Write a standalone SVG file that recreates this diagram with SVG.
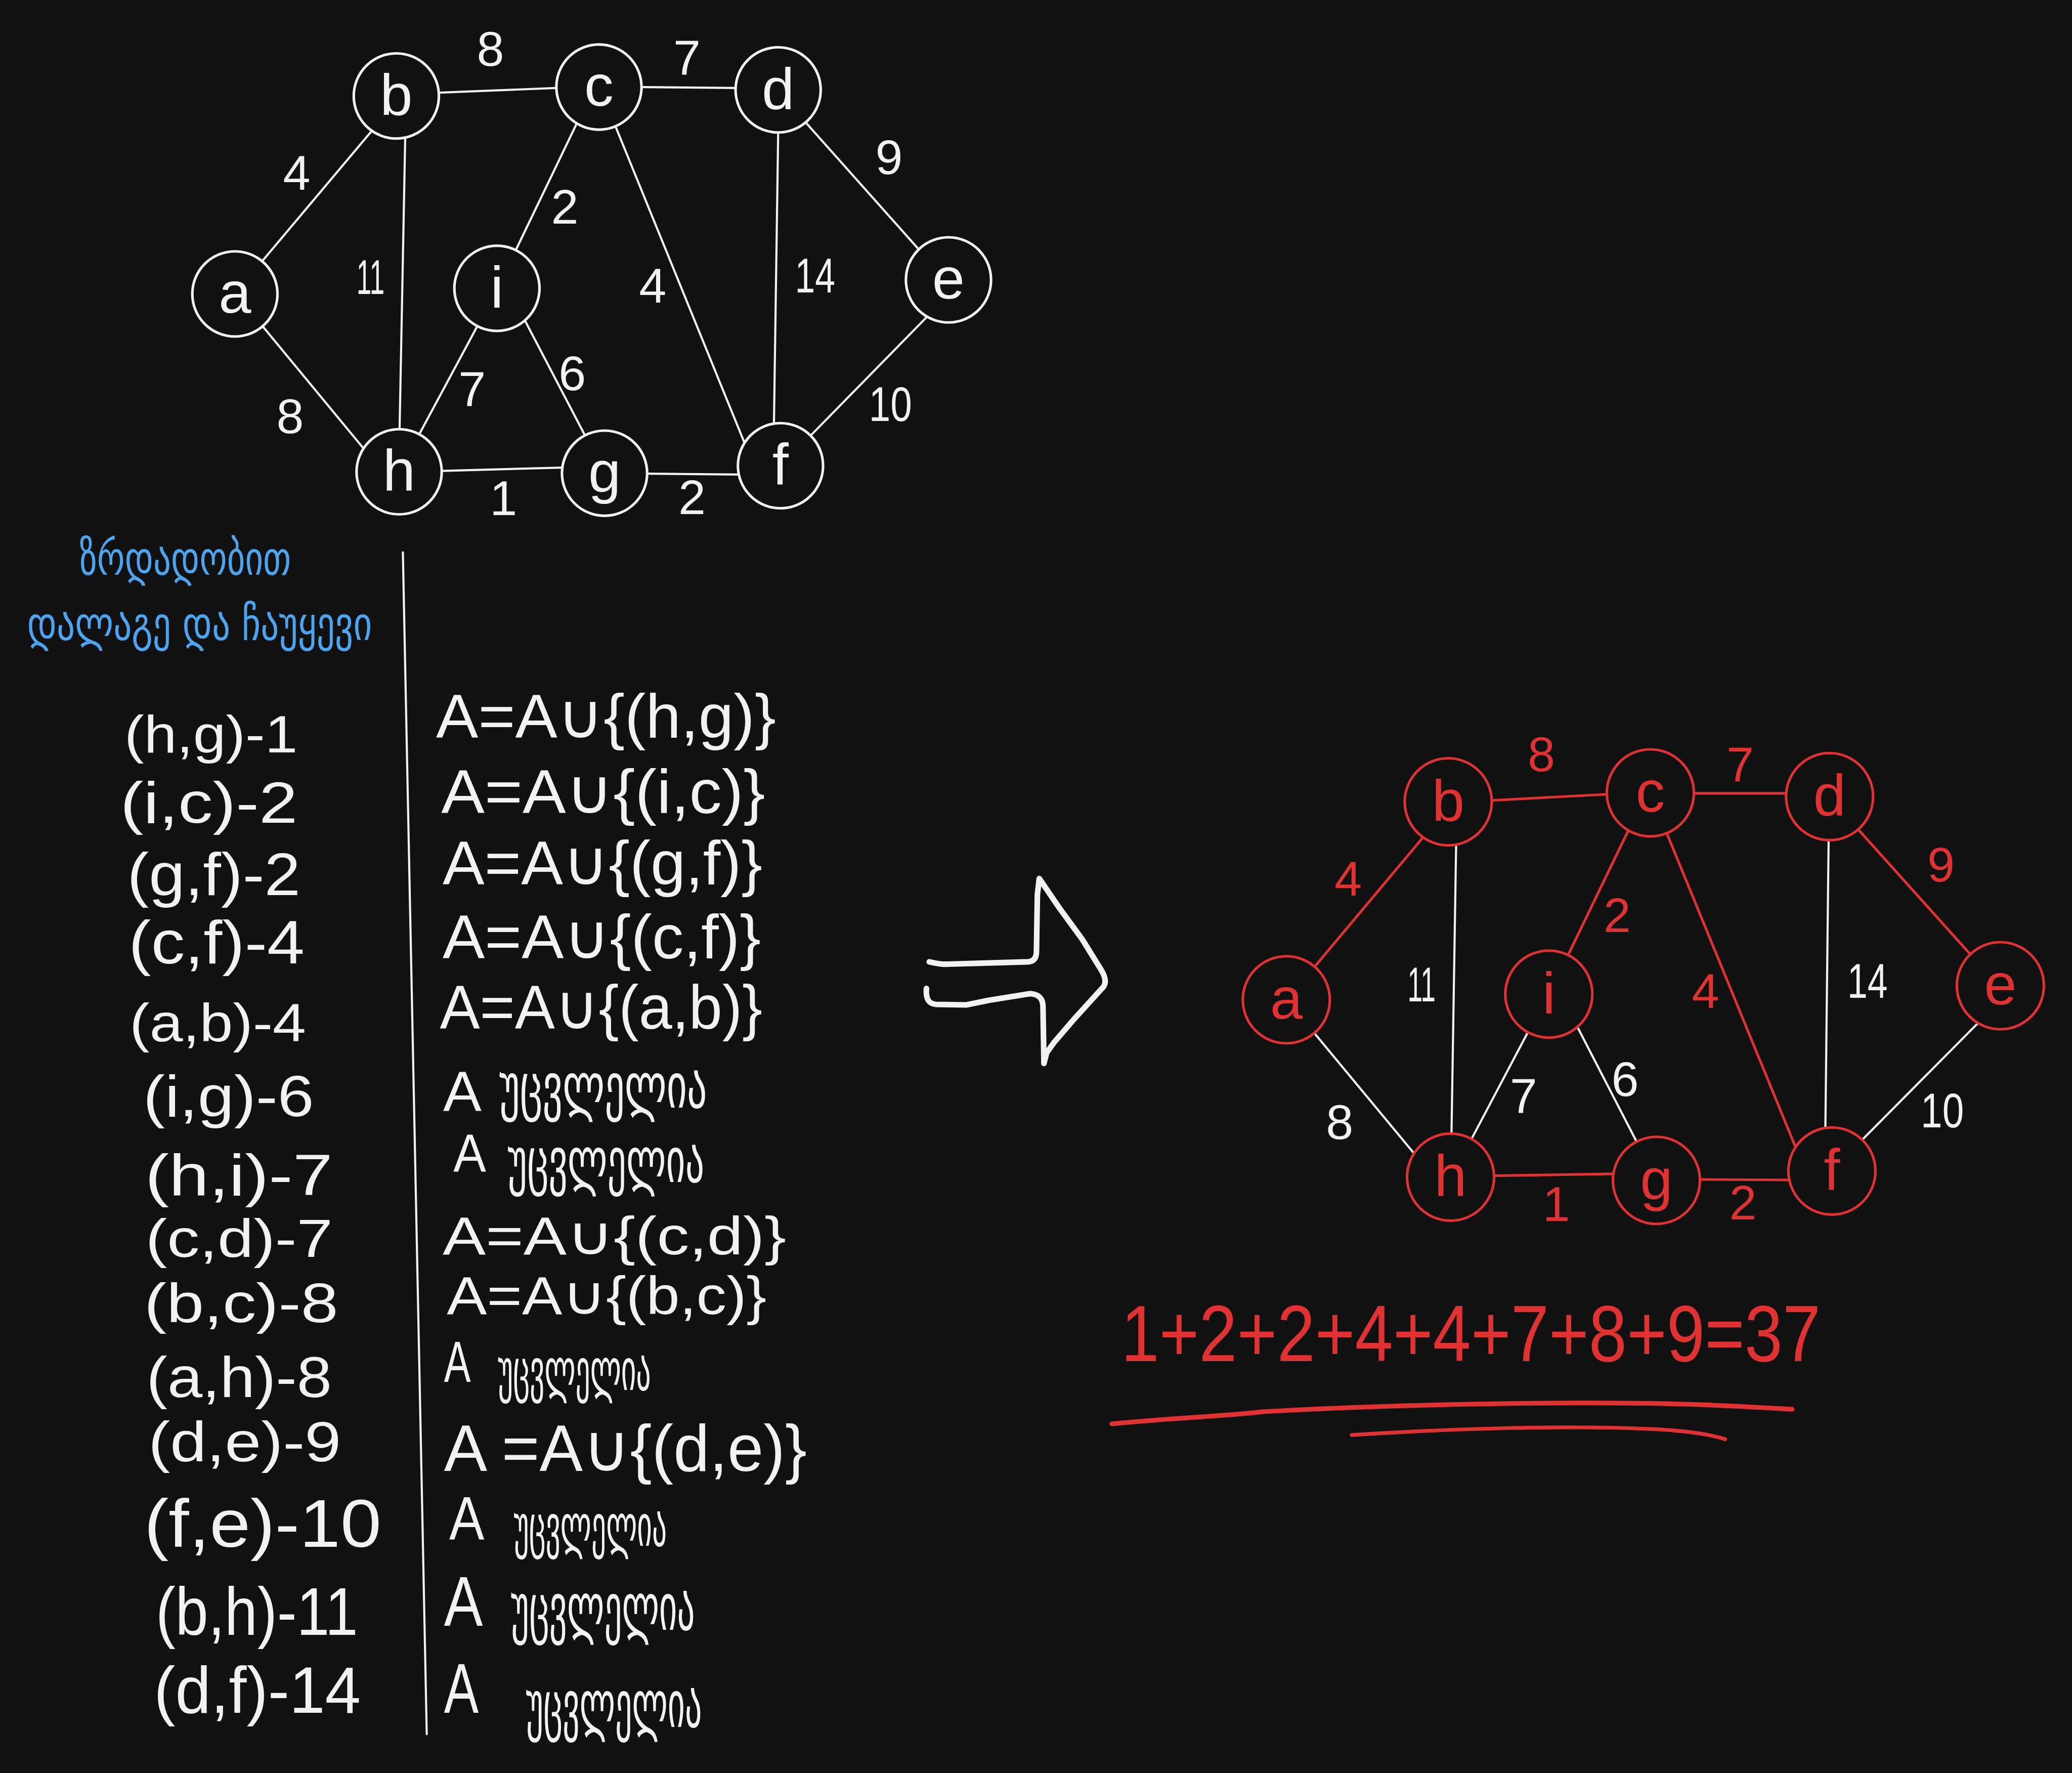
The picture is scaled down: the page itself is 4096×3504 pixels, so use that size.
<svg xmlns="http://www.w3.org/2000/svg" width="4096" height="3504" viewBox="0 0 4096 3504">
<style>
.bg{fill:#111111}
.wl{stroke:#f2f2f2;stroke-width:4.5;fill:none;stroke-linecap:round}
.rl{stroke:#e03232;stroke-width:5.5;fill:none;stroke-linecap:round}
.wn{fill:#111111;stroke:#f2f2f2;stroke-width:5.5}
.rn{fill:#111111;stroke:#e03232;stroke-width:5.5}
text{font-family:"Liberation Sans","DejaVu Sans",sans-serif}
.nt{font-size:125px;text-anchor:middle}
.lb{font-size:105px;text-anchor:middle}
.w{fill:#f2f2f2}
.r{fill:#e03232}
.b{fill:#4ca5f0}
.geo{font-family:"DejaVu Sans","Noto Sans",sans-serif}
.ar{stroke:#f2f2f2;stroke-width:12;fill:none;stroke-linecap:round;stroke-linejoin:round}
.ul{stroke:#e03232;fill:none;stroke-linecap:round}
</style>
<rect class="bg" x="0" y="0" width="4096" height="3504"/>
<g transform="scale(0.925)">
<!-- top graph connectors -->
<g id="connectors-top">
<line class="wl" x1="562" y1="556" x2="795" y2="279"/>
<line class="wl" x1="939" y1="198" x2="1188" y2="188"/>
<line class="wl" x1="866" y1="293" x2="854" y2="915"/>
<line class="wl" x1="562" y1="698" x2="776" y2="957"/>
<line class="wl" x1="1232" y1="265" x2="1103" y2="533"/>
<line class="wl" x1="1317" y1="274" x2="1591" y2="946"/>
<line class="wl" x1="1374" y1="186" x2="1571" y2="188"/>
<line class="wl" x1="1663" y1="287" x2="1654" y2="906"/>
<line class="wl" x1="1724" y1="264" x2="1961" y2="530"/>
<line class="wl" x1="1980" y1="678" x2="1735" y2="928"/>
<line class="wl" x1="897" y1="926" x2="1020" y2="697"/>
<line class="wl" x1="1123" y1="687" x2="1250" y2="930"/>
<line class="wl" x1="946" y1="1006" x2="1202" y2="999"/>
<line class="wl" x1="1386" y1="1012" x2="1583" y2="1014"/>
<text class="lb w" x="1048" y="141">8</text>
<text class="lb w" x="634" y="405">4</text>
<text class="lb w" x="792" y="628" textLength="60" lengthAdjust="spacingAndGlyphs">11</text>
<text class="lb w" x="1207" y="478">2</text>
<text class="lb w" x="1395" y="647">4</text>
<text class="lb w" x="620" y="925">8</text>
<text class="lb w" x="1009" y="867">7</text>
<text class="lb w" x="1223" y="834">6</text>
<text class="lb w" x="1076" y="1101">1</text>
<text class="lb w" x="1468" y="159">7</text>
<text class="lb w" x="1900" y="372">9</text>
<text class="lb w" x="1742" y="625" textLength="86" lengthAdjust="spacingAndGlyphs">14</text>
<text class="lb w" x="1903" y="900" textLength="92" lengthAdjust="spacingAndGlyphs">10</text>
<text class="lb w" x="1479" y="1098">2</text>
</g>
<g id="top-a"><circle class="wn" cx="502" cy="628" r="91"/><text class="nt w" x="502" y="668">a</text></g>
<g id="top-b"><circle class="wn" cx="847" cy="205" r="91"/><text class="nt w" x="847" y="245">b</text></g>
<g id="top-c"><circle class="wn" cx="1280" cy="186" r="91"/><text class="nt w" x="1280" y="226">c</text></g>
<g id="top-d"><circle class="wn" cx="1663" cy="192" r="91"/><text class="nt w" x="1663" y="232">d</text></g>
<g id="top-e"><circle class="wn" cx="2027" cy="598" r="91"/><text class="nt w" x="2027" y="638">e</text></g>
<g id="top-f"><circle class="wn" cx="1668" cy="995" r="91"/><text class="nt w" x="1668" y="1035">f</text></g>
<g id="top-g"><circle class="wn" cx="1292" cy="1011" r="91"/><text class="nt w" x="1292" y="1051">g</text></g>
<g id="top-h"><circle class="wn" cx="853" cy="1008" r="91"/><text class="nt w" x="853" y="1048">h</text></g>
<g id="top-i"><circle class="wn" cx="1062" cy="616" r="91"/><text class="nt w" x="1062" y="656">i</text></g>

<!-- header (blue) -->
<g id="header">
<text class="geo b" x="170" y="1228" font-size="100" textLength="452" lengthAdjust="spacingAndGlyphs">ზრდადობით</text>
<text class="geo b" x="58" y="1368" font-size="100" textLength="737" lengthAdjust="spacingAndGlyphs">დალაგე  და  ჩაუყევი</text>
</g>

<!-- divider -->
<line class="wl" x1="861" y1="1180" x2="912" y2="3705"/>

<!-- sorted edges -->
<g id="sorted-edges" class="w">
<text x="266" y="1608" font-size="112" textLength="370" lengthAdjust="spacingAndGlyphs">(h,g)-1</text>
<text x="257" y="1758" font-size="125" textLength="379" lengthAdjust="spacingAndGlyphs">(i,c)-2</text>
<text x="272" y="1912" font-size="128" textLength="370" lengthAdjust="spacingAndGlyphs">(g,f)-2</text>
<text x="275" y="2058" font-size="130" textLength="376" lengthAdjust="spacingAndGlyphs">(c,f)-4</text>
<text x="277" y="2225" font-size="115" textLength="377" lengthAdjust="spacingAndGlyphs">(a,b)-4</text>
<text x="306" y="2385" font-size="124" textLength="365" lengthAdjust="spacingAndGlyphs">(i,g)-6</text>
<text x="310" y="2554" font-size="125" textLength="401" lengthAdjust="spacingAndGlyphs">(h,i)-7</text>
<text x="311" y="2685" font-size="115" textLength="400" lengthAdjust="spacingAndGlyphs">(c,d)-7</text>
<text x="308" y="2825" font-size="118" textLength="415" lengthAdjust="spacingAndGlyphs">(b,c)-8</text>
<text x="313" y="2985" font-size="122" textLength="396" lengthAdjust="spacingAndGlyphs">(a,h)-8</text>
<text x="317" y="3122" font-size="120" textLength="412" lengthAdjust="spacingAndGlyphs">(d,e)-9</text>
<text x="308" y="3305" font-size="145" textLength="507" lengthAdjust="spacingAndGlyphs">(f,e)-10</text>
<text x="333" y="3493" font-size="145" textLength="432" lengthAdjust="spacingAndGlyphs">(b,h)-11</text>
<text x="329" y="3660" font-size="140" textLength="442" lengthAdjust="spacingAndGlyphs">(d,f)-14</text>
</g>

<!-- set A -->
<g id="set-a" class="w">
<text x="932" y="1576" font-size="132" textLength="726" lengthAdjust="spacingAndGlyphs">A=A∪{(h,g)}</text>
<text x="943" y="1737" font-size="132" textLength="692" lengthAdjust="spacingAndGlyphs">A=A∪{(i,c)}</text>
<text x="946" y="1890" font-size="132" textLength="683" lengthAdjust="spacingAndGlyphs">A=A∪{(g,f)}</text>
<text x="946" y="2048" font-size="132" textLength="680" lengthAdjust="spacingAndGlyphs">A=A∪{(c,f)}</text>
<text x="940" y="2198" font-size="132" textLength="689" lengthAdjust="spacingAndGlyphs">A=A∪{(a,b)}</text>
<text x="947" y="2373" font-size="120" textLength="82" lengthAdjust="spacingAndGlyphs">A</text>
<text class="geo" x="1067" y="2367" font-size="135" textLength="444" lengthAdjust="spacingAndGlyphs">უცვლელია</text>
<text x="969" y="2503" font-size="115" textLength="70" lengthAdjust="spacingAndGlyphs">A</text>
<text class="geo" x="1085" y="2525" font-size="135" textLength="420" lengthAdjust="spacingAndGlyphs">უცვლელია</text>
<text x="946" y="2680" font-size="114" textLength="734" lengthAdjust="spacingAndGlyphs">A=A∪{(c,d)}</text>
<text x="955" y="2808" font-size="114" textLength="683" lengthAdjust="spacingAndGlyphs">A=A∪{(b,c)}</text>
<text x="949" y="2952" font-size="125" textLength="57" lengthAdjust="spacingAndGlyphs">A</text>
<text class="geo" x="1064" y="2970" font-size="125" textLength="327" lengthAdjust="spacingAndGlyphs">უცვლელია</text>
<text x="949" y="3143" font-size="140" textLength="775" lengthAdjust="spacingAndGlyphs">A =A∪{(d,e)}</text>
<text x="960" y="3289" font-size="130" textLength="75" lengthAdjust="spacingAndGlyphs">A</text>
<text class="geo" x="1098" y="3303" font-size="125" textLength="327" lengthAdjust="spacingAndGlyphs">უცვლელია</text>
<text x="949" y="3474" font-size="150" textLength="83" lengthAdjust="spacingAndGlyphs">A</text>
<text class="geo" x="1092" y="3482" font-size="140" textLength="393" lengthAdjust="spacingAndGlyphs">უცვლელია</text>
<text x="949" y="3659" font-size="150" textLength="74" lengthAdjust="spacingAndGlyphs">A</text>
<text class="geo" x="1124" y="3690" font-size="140" textLength="376" lengthAdjust="spacingAndGlyphs">უცვლელია</text>
</g>

<!-- big arrow -->
<path id="arrow" class="ar" d="M1986,2055 C2000,2058 2010,2061 2025,2060 L2197,2055 Q2214,2054 2215,2035 L2217,1912 L2221,1877 L2264,1940 L2313,2007 L2352,2070 Q2370,2098 2355,2112 L2294,2179 L2252,2228 L2237,2249 L2231,2272 L2229,2151 Q2229,2125 2202,2123 L2114,2137 L2065,2147 L2000,2146 Q1977,2144 1980,2112"/>

<!-- MST graph connectors -->
<g id="connectors-mst">
<line class="rl" x1="2809" y1="2066" x2="3043" y2="1787"/>
<line class="rl" x1="3189" y1="1710" x2="3435" y2="1697"/>
<line class="wl" x1="3112" y1="1801" x2="3102" y2="2423"/>
<line class="wl" x1="2807" y1="2205" x2="3025" y2="2468"/>
<line class="rl" x1="3481" y1="1772" x2="3351" y2="2041"/>
<line class="rl" x1="3562" y1="1780" x2="3839" y2="2455"/>
<line class="wl" x1="3144" y1="2435" x2="3266" y2="2204"/>
<line class="wl" x1="3370" y1="2192" x2="3498" y2="2440"/>
<line class="rl" x1="3193" y1="2512" x2="3449" y2="2508"/>
<line class="rl" x1="3621" y1="1695" x2="3820" y2="1695"/>
<line class="wl" x1="3908" y1="1793" x2="3901" y2="2414"/>
<line class="rl" x1="3972" y1="1773" x2="4210" y2="2038"/>
<line class="wl" x1="4230" y1="2183" x2="3978" y2="2437"/>
<line class="rl" x1="3634" y1="2520" x2="3828" y2="2521"/>
<text class="lb r" x="3294" y="1648">8</text>
<text class="lb r" x="2881" y="1914">4</text>
<text class="lb w" x="3038" y="2139" textLength="60" lengthAdjust="spacingAndGlyphs">11</text>
<text class="lb r" x="3456" y="1991">2</text>
<text class="lb r" x="3645" y="2153">4</text>
<text class="lb w" x="2863" y="2433">8</text>
<text class="lb w" x="3256" y="2377">7</text>
<text class="lb w" x="3473" y="2342">6</text>
<text class="lb r" x="3326" y="2609">1</text>
<text class="lb r" x="3719" y="1669">7</text>
<text class="lb r" x="4148" y="1883">9</text>
<text class="lb w" x="3991" y="2132" textLength="86" lengthAdjust="spacingAndGlyphs">14</text>
<text class="lb w" x="4151" y="2409" textLength="92" lengthAdjust="spacingAndGlyphs">10</text>
<text class="lb r" x="3725" y="2605">2</text>
</g>
<g id="mst-a"><circle class="rn" cx="2749" cy="2136" r="93"/><text class="nt r" x="2749" y="2176">a</text></g>
<g id="mst-b"><circle class="rn" cx="3095" cy="1713" r="93"/><text class="nt r" x="3095" y="1753">b</text></g>
<g id="mst-c"><circle class="rn" cx="3527" cy="1694" r="93"/><text class="nt r" x="3527" y="1734">c</text></g>
<g id="mst-d"><circle class="rn" cx="3910" cy="1702" r="93"/><text class="nt r" x="3910" y="1742">d</text></g>
<g id="mst-e"><circle class="rn" cx="4275" cy="2106" r="93"/><text class="nt r" x="4275" y="2146">e</text></g>
<g id="mst-f"><circle class="rn" cx="3915" cy="2502" r="93"/><text class="nt r" x="3915" y="2542">f</text></g>
<g id="mst-g"><circle class="rn" cx="3540" cy="2522" r="93"/><text class="nt r" x="3540" y="2562">g</text></g>
<g id="mst-h"><circle class="rn" cx="3100" cy="2515" r="93"/><text class="nt r" x="3100" y="2555">h</text></g>
<g id="mst-i"><circle class="rn" cx="3310" cy="2124" r="93"/><text class="nt r" x="3310" y="2164">i</text></g>

<!-- total weight -->
<g id="total">
<text class="r" x="2396" y="2908" font-size="170" textLength="1495" lengthAdjust="spacingAndGlyphs">1+2+2+4+4+7+8+9=37</text>
<path class="ul" stroke-width="10" d="M2376,3042 C2500,3030 2626,3025 2700,3016 C3000,3000 3300,2996 3472,2998 C3600,2998 3700,3004 3830,3011"/>
<path class="ul" stroke-width="8" d="M2889,3066 C3100,3052 3350,3045 3523,3053 C3600,3056 3650,3063 3687,3075"/>
</g>
</g>
</svg>
